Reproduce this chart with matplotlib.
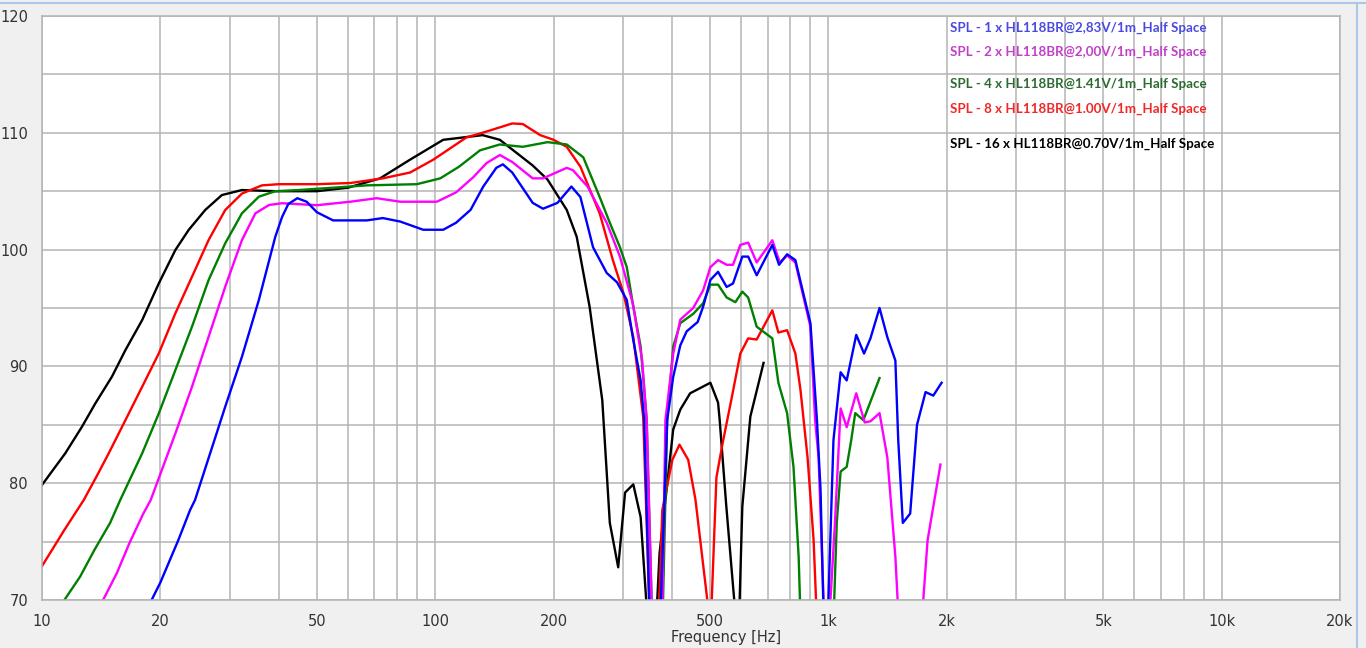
import matplotlib
matplotlib.use("Agg")
import matplotlib.pyplot as plt
from matplotlib.lines import Line2D
import numpy as np

# ---------------- data ----------------
f_black = [10, 11.46, 12.64, 13.67, 15.06, 16.3, 17.98, 19.82, 21.84, 23.6, 26.02, 28.67, 32.25, 39.2, 50, 60, 72.4,
           86.3, 104.8, 132, 146, 177, 193, 216, 229, 247, 266, 278, 292, 304, 319, 333, 344, 355, 367, 372, 403,
           420, 445, 501, 524, 529, 550, 573, 590, 604, 633, 684]
spl_black = [79.85, 82.56, 84.84, 86.84, 89.12, 91.4, 93.97, 97.11, 99.97, 101.68, 103.4, 104.67, 105.1, 105.0, 105.0,
             105.3, 106.1, 107.7, 109.4, 109.8, 109.4, 107.2, 106.0, 103.4, 101.1, 95.1, 87.1, 76.6, 72.8, 79.2, 79.9,
             77.1, 70.0, 62.0, 70.0, 74.0, 84.6, 86.3, 87.7, 88.6, 86.9, 85.4, 78.0, 70.9, 66.0, 78.0, 85.7, 90.3]

f_red = [10, 11.4, 12.77, 13.8, 14.78, 16.3, 17.98, 19.82, 21.84, 24.07, 26.53, 29.24, 32.25, 36.26, 40, 50, 60.8, 73.6,
         86.3, 98.9, 120, 134.8, 157, 167, 185, 200, 216, 234, 262, 283, 301, 319, 338, 350, 365, 378, 401, 418, 440,
         459, 492, 500, 505, 519, 538, 566, 597, 625, 657, 720, 746, 785, 824, 849, 885, 917, 930]
spl_red = [72.9, 76.0, 78.56, 80.65, 82.56, 85.4, 88.26, 91.12, 94.55, 97.68, 100.82, 103.39, 104.8, 105.5, 105.6, 105.6,
           105.7, 106.1, 106.6, 107.7, 109.6, 110.1, 110.8, 110.75, 109.8, 109.4, 108.8, 107.1, 103.1, 99.1, 96.3,
           92.5, 85.7, 70.0, 62.0, 77.7, 82.0, 83.3, 82.0, 78.6, 70.0, 64.0, 70.0, 80.5, 83.4, 87.1, 91.1, 92.4,
           92.3, 94.8, 92.9, 93.1, 91.1, 88.0, 82.2, 75.1, 70.0]

f_green = [10, 11.4, 12.5, 13.6, 14.9, 15.81, 17.98, 19.82, 21.84, 24.07, 26.53, 29.24, 32.25, 35.6, 39.2, 45, 55, 67,
           89.8, 103, 115, 130, 146, 167, 193, 216, 238, 262, 278, 295, 307, 318, 333, 345, 355, 375, 389, 403, 420,
           453, 480, 501, 524, 551, 580, 604, 625, 657, 720, 746, 785, 815, 840, 850, 940, 1030, 1050, 1074, 1113,
           1143, 1170, 1227, 1349]
spl_green = [67.8, 70.0, 72.0, 74.3, 76.6, 78.56, 82.56, 85.98, 89.69, 93.4, 97.4, 100.54, 103.11, 104.53, 105.0, 105.1,
             105.3, 105.5, 105.6, 106.1, 107.1, 108.5, 109.0, 108.8, 109.2, 109.0, 107.9, 104.5, 102.3, 100.2, 98.5,
             95.4, 91.7, 85.4, 70.0, 62.0, 85.4, 91.7, 93.7, 94.5, 95.4, 97.0, 97.0, 95.9, 95.5, 96.4, 95.9, 93.4,
             92.4, 88.6, 86.0, 81.4, 73.7, 68.0, 62.0, 68.0, 76.6, 81.0, 81.4, 83.7, 86.0, 85.4, 89.0]

f_magenta = [10, 14.3, 15.5, 16.7, 18.1, 18.9, 21.84, 24.07, 26.53, 29.24, 32.25, 34.9, 37.8, 40.8, 50, 60.8, 71, 81.5,
             101, 113, 125, 135, 146, 157, 177, 188, 216, 224, 244, 273, 295, 318, 336, 345, 355, 375, 385, 403, 420,
             453, 480, 501, 524, 551, 572, 597, 625, 657, 720, 752, 785, 824, 900, 925, 944, 972, 990, 1012, 1039,
             1074, 1113, 1177, 1237, 1279, 1349, 1412, 1480, 1505, 1600, 1734, 1787, 1927]
spl_magenta = [60.0, 70.0, 72.3, 74.9, 77.4, 78.56, 84.27, 88.26, 92.54, 96.82, 100.82, 103.11, 103.82, 103.97, 103.8,
               104.1, 104.4, 104.1, 104.1, 104.9, 106.2, 107.4, 108.1, 107.5, 106.1, 106.1, 107.0, 106.8, 105.4,
               102.3, 99.4, 95.4, 90.5, 85.4, 70.0, 62.0, 85.4, 91.1, 94.0, 95.0, 96.5, 98.5, 99.1, 98.7, 98.7, 100.4,
               100.6, 98.9, 100.8, 98.9, 99.5, 98.9, 93.4, 85.4, 82.2, 70.0, 62.0, 70.0, 76.6, 86.4, 84.8, 87.7, 85.2,
               85.3, 86.0, 82.2, 73.7, 69.0, 62.0, 69.0, 75.1, 81.6]

f_blue = [10, 19.0, 20.0, 22.2, 23.8, 24.5, 29.24, 32.25, 35.6, 39.2, 40.8, 42.3, 44.6, 47.1, 50, 55, 67, 73.6, 81.5,
          93.2, 104.8, 113, 123, 132.5, 143, 148.6, 157, 177, 188, 204.6, 222, 234, 252, 273, 290, 307, 318, 333,
          340, 350, 365, 375, 389, 403, 420, 436, 465, 480, 501, 524, 551, 572, 604, 625, 657, 720, 749, 785, 824,
          900, 935, 955, 970, 985, 1000, 1030, 1074, 1113, 1177, 1232, 1279, 1349, 1412, 1480, 1505, 1546, 1614, 1680,
          1766, 1848, 1940]
spl_blue = [55.0, 70.0, 71.5, 75.1, 77.7, 78.56, 86.55, 90.83, 95.68, 101.1, 102.8, 103.9, 104.4, 104.1, 103.2, 102.5,
            102.5, 102.7, 102.4, 101.7, 101.7, 102.3, 103.4, 105.4, 107.0, 107.3, 106.6, 104.0, 103.5, 104.0, 105.4,
            104.5, 100.2, 98.0, 97.2, 95.7, 92.5, 88.8, 85.4, 70.0, 62.0, 70.0, 85.4, 89.1, 91.8, 93.0, 93.8, 95.1,
            97.4, 98.1, 96.8, 97.1, 99.4, 99.4, 97.8, 100.4, 98.7, 99.6, 99.1, 93.7, 85.4, 79.4, 70.0, 62.0, 70.0,
            83.7, 89.5, 88.8, 92.7, 91.1, 92.4, 95.0, 92.5, 90.5, 83.7, 76.6, 77.4, 85.0, 87.8, 87.5, 88.6]

legend_labels = [
    "SPL - 1 x HL118BR@2,83V/1m_Half Space",
    "SPL - 2 x HL118BR@2,00V/1m_Half Space",
    "SPL - 4 x HL118BR@1.41V/1m_Half Space",
    "SPL - 8 x HL118BR@1.00V/1m_Half Space",
    "SPL - 16 x HL118BR@0.70V/1m_Half Space",
]
legend_colors = ["#4a4ae0", "#c040c8", "#2e6b32", "#f02828", "#000000"]
legend_y = [28, 52, 84, 109, 144]  # pixel rows

x_ticks = [10, 20, 50, 100, 200, 500, 1000, 2000, 5000, 10000, 20000]
x_ticklabels = ["10", "20", "50", "100", "200", "500", "1k", "2k", "5k", "10k", "20k"]
y_ticks = [70, 80, 90, 100, 110, 120]

# ---------------- figure ----------------
W, H = 1366, 648
fig = plt.figure(figsize=(W / 100, H / 100), dpi=100, facecolor="#f0f0f0")
L, R, T, B = 42, 1340, 16, 600
ax = fig.add_axes([L / W, 1 - B / H, (R - L) / W, (B - T) / H])
ax.set_facecolor("white")
ax.set_xscale("log")
ax.set_xlim(10, 20000)
ax.set_ylim(70, 120)

grid_c = "#b4b4b4"
ax.set_yticks(np.arange(70, 121, 5), minor=True)
ax.set_yticks(y_ticks)
ax.set_yticklabels([str(v) for v in y_ticks])
ax.set_xticks(x_ticks)
ax.set_xticklabels(x_ticklabels)
ax.grid(True, which="both", color=grid_c, linewidth=1.1)
ax.set_axisbelow(True)
for s in ax.spines.values():
    s.set_color(grid_c)
    s.set_linewidth(1.1)
ax.tick_params(which="both", length=0, labelsize=10.5, colors="#333333")
ax.tick_params(axis="y", pad=10)
ax.tick_params(axis="x", pad=10)
ax.set_xlabel("Frequency [Hz]", fontsize=10.5, color="#333333")
ax.xaxis.set_label_coords((726 - L) / (R - L), -0.052)

lw = 1.7
ax.plot(f_black, spl_black, color="#000000", lw=lw)
ax.plot(f_red, spl_red, color="#ff0000", lw=lw)
ax.plot(f_green, spl_green, color="#008000", lw=lw)
ax.plot(f_magenta, spl_magenta, color="#ff00ff", lw=lw)
ax.plot(f_blue, spl_blue, color="#0000ff", lw=lw)

for txt, c, yy in zip(legend_labels, legend_colors, legend_y):
    fig.text(950 / W, 1 - yy / H, txt, color=c, fontsize=9.6, fontweight="bold",
             family=["Lato", "DejaVu Sans"], va="center", ha="left")

# light blue window frame lines
fig.add_artist(Line2D([0, 1], [1 - 3 / H, 1 - 3 / H], color="#a9c8e8", lw=1.5))
fig.add_artist(Line2D([1357 / W, 1357 / W], [0, 1 - 3 / H], color="#a9c8e8", lw=1.5))

fig.savefig("out.png", dpi=100, facecolor=fig.get_facecolor())
